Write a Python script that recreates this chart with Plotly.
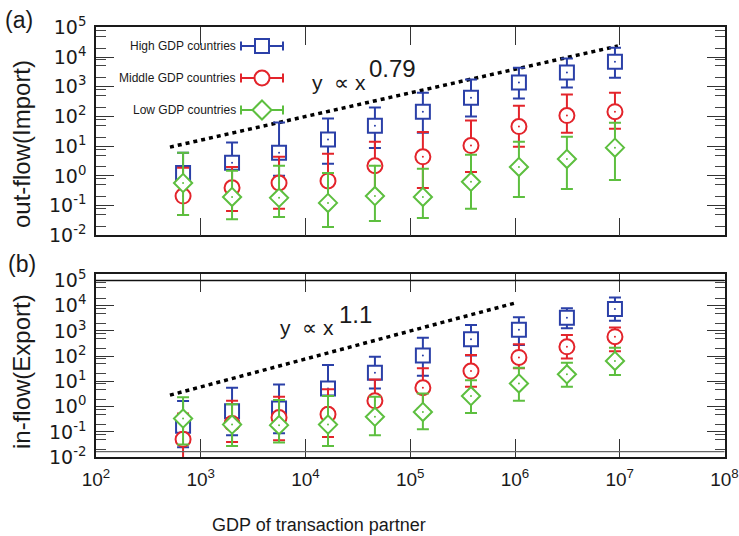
import plotly.graph_objects as go

# ---------------- data ----------------
gdp_partner = [678, 1990, 5590, 16400, 46000, 132000, 380000, 1090000, 3130000, 9000000]

# (a) out-flow (Import)
imp_high = [1.26, 2.75, 6.03, 16.6, 49.0, 145, 427, 1380, 3020, 6920]
imp_high_up = [6.03, 13.2, 63.1, 85.1, 200, 631, 1740, 4370, 8910, 20400]
imp_high_lo = [0.209, 0.575, 1.0, 2.57, 8.71, 28.2, 100, 398, 933, 2000]

imp_mid = [0.209, 0.398, 0.575, 0.676, 2.19, 4.37, 10.5, 45.7, 107, 145]
imp_mid_up = [1.86, 2.0, 4.37, 5.5, 14.1, 30.2, 72.4, 229, 550, 631]
imp_mid_lo = [0.048, 0.066, 0.078, 0.098, 0.28, 0.39, 1.35, 9.55, 28.2, 38.9]

imp_low = [0.575, 0.195, 0.182, 0.123, 0.209, 0.195, 0.631, 2.0, 3.72, 8.91]
imp_low_up = [6.03, 1.48, 2.19, 1.26, 2.19, 1.74, 5.13, 14.1, 20.9, 61.7]
imp_low_lo = [0.048, 0.035, 0.041, 0.019, 0.030, 0.038, 0.078, 0.195, 0.363, 0.724]

# (b) in-flow (Export)
exp_high = [0.174, 0.66, 0.85, 5.25, 21.9, 105, 468, 1100, 3310, 7410]
exp_high_up = [1.66, 5.62, 7.59, 44.7, 95.5, 537, 1700, 3470, 7940, 20900]
exp_high_lo = [0.025, 0.074, 0.089, 0.55, 5.25, 16.6, 105, 275, 1260, 2510]

exp_mid = [0.051, 0.214, 0.372, 0.50, 1.70, 5.62, 25.7, 89.1, 234, 589]
exp_mid_up = [0.537, 1.70, 2.45, 4.90, 12.0, 33.1, 110, 295, 692, 1350]
exp_mid_lo = [0.0091, 0.040, 0.047, 0.063, 0.29, 0.85, 6.17, 33.1, 81.3, 158]

exp_low = [0.339, 0.195, 0.186, 0.195, 0.398, 0.617, 2.63, 8.32, 19.1, 64.6]
exp_low_up = [2.34, 1.26, 1.82, 2.63, 2.45, 3.31, 11.2, 34.7, 55.0, 214]
exp_low_lo = [0.032, 0.028, 0.038, 0.028, 0.074, 0.129, 0.56, 1.70, 6.17, 17.8]

# guide lines (power laws)
fit_a_x = [508, 9.6e6]
fit_a_y = [9.3, 23400]
fit_b_x = [508, 9.8e5]
fit_b_y = [2.86, 12400]

series_names = ["High GDP countries", "Middle GDP countries", "Low GDP countries"]
x_tick_vals = [1e2, 1e3, 1e4, 1e5, 1e6, 1e7, 1e8]
x_tick_text = ["10<sup>2</sup>", "10<sup>3</sup>", "10<sup>4</sup>", "10<sup>5</sup>",
               "10<sup>6</sup>", "10<sup>7</sup>", "10<sup>8</sup>"]
y_tick_vals = [1e-2, 1e-1, 1e0, 1e1, 1e2, 1e3, 1e4, 1e5]
y_tick_text = ["10<sup>-2</sup>", "10<sup>-1</sup>", "10<sup>0</sup>", "10<sup>1</sup>",
               "10<sup>2</sup>", "10<sup>3</sup>", "10<sup>4</sup>", "10<sup>5</sup>"]
y_minor_vals = [m * 10.0 ** e for e in range(-2, 5) for m in (2, 5, 8)]

# ---------------- styling ----------------
W, H = 739, 536
BLUE, RED, GREEN = "#2b40a8", "#e3242b", "#5dbf3f"
FONT = "Liberation Sans, Arial, sans-serif"


def px(x):
    return x / W


def py(y):
    return 1 - y / H


X0, X1 = 96, 724.5
A_TOP, A_BOT = 27.3, 235.3
B_TOP, B_BOT = 274.3, 457.2

fig = go.Figure()


def add_series(x, y, up, lo, color, symbol, size, xa, ya):
    fig.add_trace(go.Scatter(
        x=x, y=y, mode="markers", xaxis=xa, yaxis=ya, showlegend=False,
        marker=dict(symbol=symbol, size=size, color="white",
                    line=dict(color=color, width=2)),
        error_y=dict(type="data", symmetric=False,
                     array=[u - v for u, v in zip(up, y)],
                     arrayminus=[v - l for v, l in zip(y, lo)],
                     color=color, thickness=2, width=6),
    ))
    fig.add_trace(go.Scatter(
        x=x, y=y, mode="markers", xaxis=xa, yaxis=ya, showlegend=False,
        marker=dict(size=2, color=color),
    ))


fig.add_trace(go.Scatter(x=fit_a_x, y=fit_a_y, mode="lines", xaxis="x", yaxis="y",
                         line=dict(color="black", width=3.5, dash="4px,4px"), showlegend=False))
fig.add_trace(go.Scatter(x=fit_b_x, y=fit_b_y, mode="lines", xaxis="x2", yaxis="y2",
                         line=dict(color="black", width=3.5, dash="4px,4px"), showlegend=False))

add_series(gdp_partner, imp_high, imp_high_up, imp_high_lo, BLUE, "square", 14, "x", "y")
add_series(gdp_partner, imp_mid, imp_mid_up, imp_mid_lo, RED, "circle", 15, "x", "y")
add_series(gdp_partner, imp_low, imp_low_up, imp_low_lo, GREEN, "diamond", 14, "x", "y")
add_series(gdp_partner, exp_high, exp_high_up, exp_high_lo, BLUE, "square", 14, "x2", "y2")
add_series(gdp_partner, exp_mid, exp_mid_up, exp_mid_lo, RED, "circle", 15, "x2", "y2")
add_series(gdp_partner, exp_low, exp_low_up, exp_low_lo, GREEN, "diamond", 14, "x2", "y2")

axis_common = dict(
    type="log", showgrid=False, zeroline=False, showline=True, mirror="ticks",
    linecolor="#1a1a1a", linewidth=1.5, ticks="inside", tickcolor="#333",
    tickwidth=1.3, ticklen=18, automargin=False,
)

fig.update_layout(
    width=W, height=H, margin=dict(l=0, r=0, t=0, b=0),
    paper_bgcolor="white", plot_bgcolor="white",
    font=dict(family=FONT, color="#1a1a1a"),
    xaxis=dict(axis_common, domain=[px(X0), px(X1)], range=[2, 8], anchor="y",
               tickmode="array", tickvals=x_tick_vals, showticklabels=False),
    yaxis=dict(axis_common, domain=[py(A_BOT), py(A_TOP)], range=[-2, 5], anchor="x",
               tickmode="array", tickvals=y_tick_vals, ticktext=y_tick_text,
               tickfont=dict(family="DejaVu Sans", size=19, color="#1a1a1a"),
               ticklabelstandoff=4,
               minor=dict(tickmode="array", tickvals=y_minor_vals, ticks="inside",
                          ticklen=10, tickcolor="#444", tickwidth=1.3)),
    xaxis2=dict(axis_common, domain=[px(X0), px(X1)], range=[2, 8], anchor="y2",
                tickmode="array", tickvals=x_tick_vals, ticktext=x_tick_text,
                tickfont=dict(family=FONT, size=19, color="#1a1a1a"),
                ticklabelstandoff=4),
    yaxis2=dict(axis_common, domain=[py(B_BOT), py(B_TOP)], range=[-2, 5.24], anchor="x2",
                tickmode="array", tickvals=y_tick_vals, ticktext=y_tick_text,
                tickfont=dict(family="DejaVu Sans", size=19, color="#1a1a1a"),
                ticklabelstandoff=4,
                minor=dict(tickmode="array", tickvals=y_minor_vals, ticks="inside",
                           ticklen=10, tickcolor="#444", tickwidth=1.3)),
)

shapes = []
# extra horizontal rules inside panel (b)
shapes.append(dict(type="line", xref="paper", yref="paper", x0=px(X0), x1=px(X1),
                   y0=py(280.5), y1=py(280.5), line=dict(color="#111", width=1.3)))
shapes.append(dict(type="line", xref="paper", yref="paper", x0=px(X0), x1=px(X1),
                   y0=py(451.7), y1=py(451.7), line=dict(color="#666", width=1.3)))

# legend keys (drawn manually: text left of symbol with horizontal bar)
legend_rows = [46, 78, 110]
legend_colors = [BLUE, RED, GREEN]
legend_kinds = ["square", "circle", "diamond"]
cx = 262
for cy, col, kind in zip(legend_rows, legend_colors, legend_kinds):
    shapes.append(dict(type="line", xref="paper", yref="paper", x0=px(241), x1=px(283),
                       y0=py(cy), y1=py(cy), line=dict(color=col, width=2)))
    for ex in (241, 283):
        shapes.append(dict(type="line", xref="paper", yref="paper", x0=px(ex), x1=px(ex),
                           y0=py(cy - 4.5), y1=py(cy + 4.5), line=dict(color=col, width=2)))
    if kind == "square":
        shapes.append(dict(type="rect", xref="paper", yref="paper", x0=px(cx - 7), x1=px(cx + 7),
                           y0=py(cy + 7), y1=py(cy - 7), line=dict(color=col, width=2),
                           fillcolor="white"))
    elif kind == "circle":
        shapes.append(dict(type="circle", xref="paper", yref="paper", x0=px(cx - 7.5),
                           x1=px(cx + 7.5), y0=py(cy + 7.5), y1=py(cy - 7.5),
                           line=dict(color=col, width=2), fillcolor="white"))
    else:
        d = 9.5
        path = "M {:.5f},{:.5f} L {:.5f},{:.5f} L {:.5f},{:.5f} L {:.5f},{:.5f} Z".format(
            px(cx), py(cy - d), px(cx + d), py(cy), px(cx), py(cy + d), px(cx - d), py(cy))
        shapes.append(dict(type="path", xref="paper", yref="paper", path=path,
                           line=dict(color=col, width=2), fillcolor="white"))
fig.update_layout(shapes=shapes)

ann = []


def text(x, y, s, size, xanchor="center", yanchor="middle", angle=0, family=FONT):
    ann.append(dict(xref="paper", yref="paper", x=px(x), y=py(y), text=s, showarrow=False,
                    xanchor=xanchor, yanchor=yanchor, textangle=angle,
                    font=dict(family=family, size=size, color="#1a1a1a")))


for cy, name in zip(legend_rows, series_names):
    text(238, cy, name, 12, xanchor="right")

text(19, 20, "(a)", 23)
text(22, 264, "(b)", 23)
text(21, 144, "out-flow(Import)", 24, angle=-90)
text(21, 372, "in-flow(Export)", 24, angle=-90)
text(318.5, 525, "GDP of transaction partner", 18)

text(368, 82.7, "y\u00a0\u00a0\u221d\u00a0x", 21, xanchor="right")
text(367, 68.6, "0.79", 24, xanchor="left")
text(336, 327.7, "y\u00a0\u00a0\u221d\u00a0x", 21, xanchor="right")
text(337, 314.6, "1.1", 24, xanchor="left")

fig.update_layout(annotations=ann)

fig.write_html("out.html")
